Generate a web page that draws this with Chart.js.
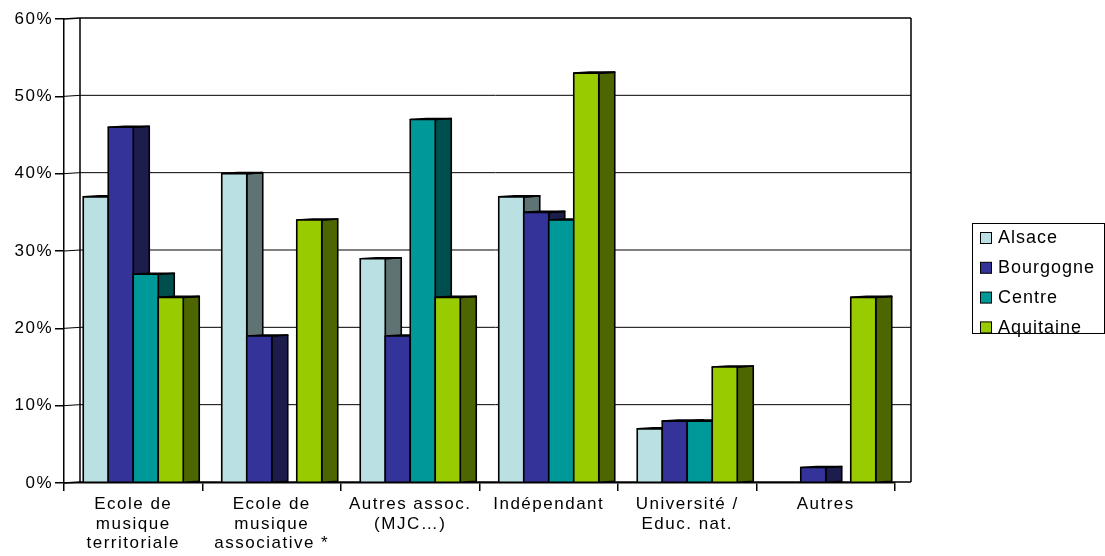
<!DOCTYPE html>
<html>
<head>
<meta charset="utf-8">
<script src="https://cdn.jsdelivr.net/npm/chart.js@4"></script>
<style>
  body { margin: 0; background: #fff; }
  canvas { display: block; }
</style>
</head>
<body>
<canvas id="grafico" width="1105" height="556"></canvas>
<script>
// Données
const categories = [
  ['Ecole de', 'musique', 'territoriale'],
  ['Ecole de', 'musique', 'associative *'],
  ['Autres assoc.', '(MJC…)'],
  'Indépendant',
  ['Université /', 'Educ. nat.'],
  'Autres'
];
const regions = ['Alsace', 'Bourgogne', 'Centre', 'Aquitaine'];
const alsace = [37, 40, 29, 37, 7, 0];
const bourgogne = [46, 19, 19, 35, 8, 2];
const centre = [27, 0, 47, 34, 8, 0];
const aquitaine = [24, 34, 24, 53, 15, 24];

const couleurs = ['#BBE0E3', '#333399', '#009999', '#99CC00'];
const couleursCote = ['#5F7375', '#1C1C4D', '#004F4F', '#4D6600'];

const PROF = 16;   // profondeur 3D
const PENTE = 1;   // décalage vertical de la profondeur
const POLICE = '"Liberation Sans", Arial, sans-serif';

// Plugin : mur du fond + barres 3D + légende encadrée
const plugin3D = {
  id: 'plugin3D',
  beforeDraw(chart) {
    chart.ctx.letterSpacing = '1.5px';
  },
  beforeDatasetsDraw(chart) {
    const ctx = chart.ctx;
    const { left, right, top, bottom } = chart.chartArea;
    const y = chart.scales.y;
    ctx.save();
    ctx.letterSpacing = '0px';
    // lignes de grille sur le mur du fond
    ctx.strokeStyle = '#000';
    y.ticks.forEach(t => {
      const py = y.getPixelForValue(t.value);
      ctx.lineWidth = (t.value === 0 || t.value === y.max) ? 1.5 : 1;
      ctx.beginPath();
      ctx.moveTo(left, py);
      ctx.lineTo(left + PROF, py - PENTE);
      ctx.lineTo(right + PROF, py - PENTE);
      ctx.stroke();
    });
    ctx.lineWidth = 1.5;
    ctx.beginPath();
    ctx.moveTo(left + PROF, bottom - PENTE);
    ctx.lineTo(left + PROF, top - PENTE);
    ctx.moveTo(right + PROF, top - PENTE);
    ctx.lineTo(right + PROF, bottom - PENTE);
    ctx.stroke();

    // barres
    ctx.lineWidth = 1.6;
    ctx.lineJoin = 'round';
    chart.data.datasets.forEach((ds, i) => {
      const meta = chart.getDatasetMeta(i);
      meta.data.forEach((bar, j) => {
        if (!ds.data[j]) return;
        const x0 = bar.x - bar.width / 2;
        const x1 = bar.x + bar.width / 2;
        const yt = bar.y;
        const yb = bar.base;
        // côté
        ctx.fillStyle = couleursCote[i];
        ctx.beginPath();
        ctx.moveTo(x1, yt);
        ctx.lineTo(x1 + PROF, yt - PENTE);
        ctx.lineTo(x1 + PROF, yb - PENTE);
        ctx.lineTo(x1, yb);
        ctx.closePath();
        ctx.fill();
        ctx.stroke();
        // dessus
        ctx.fillStyle = couleurs[i];
        ctx.beginPath();
        ctx.moveTo(x0, yt);
        ctx.lineTo(x0 + PROF, yt - PENTE);
        ctx.lineTo(x1 + PROF, yt - PENTE);
        ctx.lineTo(x1, yt);
        ctx.closePath();
        ctx.fill();
        ctx.stroke();
        // face
        ctx.fillRect(x0, yt, x1 - x0, yb - yt);
        ctx.strokeRect(x0, yt, x1 - x0, yb - yt);
      });
    });
    ctx.restore();
    return false;
  },
  afterDraw(chart) {
    const ctx = chart.ctx;
    ctx.save();
    ctx.letterSpacing = '1px';
    ctx.strokeStyle = '#000';
    ctx.lineWidth = 1;
    ctx.strokeRect(972.5, 223.5, 132, 110);
    ctx.font = '18px ' + POLICE;
    ctx.textBaseline = 'middle';
    chart.data.datasets.forEach((ds, i) => {
      const cy = 238 + i * 29.8;
      ctx.fillStyle = ds.backgroundColor;
      ctx.fillRect(980.5, cy - 5.5, 11, 11);
      ctx.strokeRect(980.5, cy - 5.5, 11, 11);
      ctx.fillStyle = '#000';
      ctx.fillText(ds.label, 998, cy + 0.5);
    });
    ctx.restore();
  }
};

const series = [alsace, bourgogne, centre, aquitaine];

new Chart(document.getElementById('grafico').getContext('2d'), {
  type: 'bar',
  data: {
    labels: categories,
    datasets: regions.map((r, i) => ({
      label: r,
      data: series[i],
      backgroundColor: couleurs[i],
      borderColor: '#000',
      categoryPercentage: 0.722,
      barPercentage: 1
    }))
  },
  options: {
    responsive: false,
    animation: false,
    layout: { padding: { top: 19, left: 0, right: 210, bottom: 0 } },
    plugins: {
      legend: { display: false },
      tooltip: { enabled: false }
    },
    scales: {
      x: {
        afterFit: s => { s.height = 73; },
        grid: { drawOnChartArea: false, tickLength: 8, color: '#000', lineWidth: 1.5 },
        border: { color: '#000', width: 1.5 },
        ticks: {
          color: '#000',
          padding: 4,
          maxRotation: 0,
          autoSkip: false,
          font: { family: POLICE, size: 17, lineHeight: 1.13 }
        }
      },
      y: {
        min: 0,
        max: 60,
        afterFit: s => { s.width = 64; },
        grid: { drawOnChartArea: false, tickLength: 9, color: '#000', lineWidth: 1.5 },
        border: { color: '#000', width: 1.5 },
        ticks: {
          stepSize: 10,
          color: '#000',
          padding: 2,
          callback: v => v + '%',
          font: { family: POLICE, size: 17 }
        }
      }
    }
  },
  plugins: [plugin3D]
});
</script>
</body>
</html>
